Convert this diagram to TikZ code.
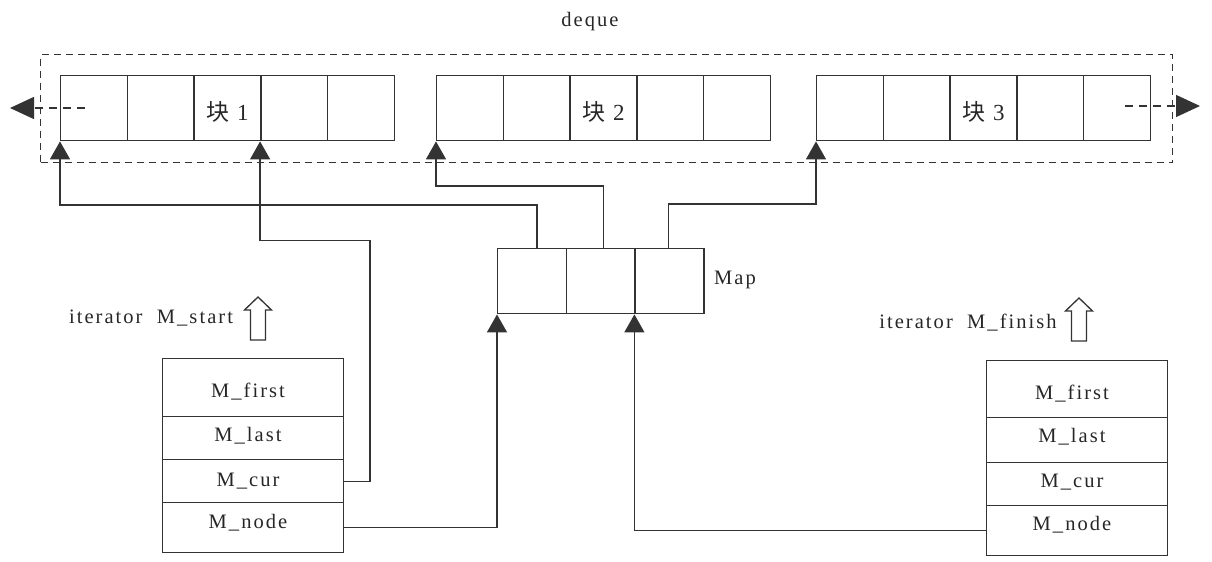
\documentclass[tikz,border=0pt]{standalone}
\usepackage{fontspec}
\setmainfont{Liberation Serif}[LetterSpace=10]
\newfontfamily\cjk{Noto Sans CJK SC}
\usetikzlibrary{arrows.meta}
\definecolor{lc}{gray}{0.2}
\begin{document}
\begin{tikzpicture}[x=1bp,y=-1bp,font=\fontsize{20.5bp}{23bp}\selectfont,text=black!85]
\useasboundingbox (0,0) rectangle (1212,562);
\tikzset{
  cell/.style={draw=lc,line width=1.4bp,minimum width=66.7bp,minimum height=65bp,inner sep=0,anchor=north west},
  mcell/.style={draw=lc,line width=1.4bp,minimum width=68.7bp,minimum height=65bp,inner sep=0,anchor=north west},
  row/.style={draw=lc,line width=1.4bp,inner sep=0,anchor=north west,minimum width=180.5bp},
  frame/.style={draw=lc,line width=1.2bp,dash pattern=on 7bp off 5bp,inner sep=0,anchor=north west},
  conn/.style={draw=lc,line width=1.3bp,-{Triangle[length=18bp,width=20bp]}},
  dline/.style={draw=lc,line width=1.3bp,dash pattern=on 8bp off 6bp,-{Triangle[length=24bp,width=22bp]}},
  hollow/.style={draw=lc,line width=1.3bp,fill=white},
  blbl/.style={font=\fontsize{23bp}{25bp}\selectfont},
}
% dashed deque frame
\node[frame,minimum width=1132bp,minimum height=108bp] (deque) at (40,54) {};
\node (dequelbl) at (590,22) {deque};
% blocks
\foreach \k/\x in {1/60,2/436,3/816}{
  \foreach \j in {1,...,5}{
    \node[cell] (b\k c\j) at ({\x+(\j-1)*66.7},75) {};
  }
  \node[blbl] (t\k) at ([yshift=-4bp]b\k c3.center) {{\cjk 块} \k};
}
% side arrows
\coordinate (la) at (85,108);
\coordinate (lb) at (10,108);
\coordinate (ra) at (1125,106);
\coordinate (rb) at (1200,106);
\draw[dline] (la) -- (lb);
\draw[dline] (ra) -- (rb);
% map
\foreach \j in {1,2,3}{
  \node[mcell] (map\j) at ({497+(\j-1)*68.7},248) {};
}
\node (maplbl) at (735,280) {Map};
% left iterator
\node[row,minimum height=58bp] (lfirst) at (162,358) {};
\node[row,minimum height=43bp] (llast) at (162,416) {};
\node[row,minimum height=43bp] (lcur) at (162,459) {};
\node[row,minimum height=50bp] (lnode) at (162,502) {};
\node (tlf) at (248,392) {M\_first};
\node (tll) at (248,436) {M\_last};
\node (tlc) at (248,481) {M\_cur};
\node (tln) at (248,523) {M\_node};
\node (itl) at (151,318) {iterator\ \ M\_start};
\coordinate (sa) at (258,297);
\draw[hollow] (sa) -- ++(13.5,13) -- ++(-6,0) -- ++(0,30) -- ++(-15,0) -- ++(0,-30) -- ++(-6,0) -- cycle;
% right iterator
\node[row,minimum height=57bp] (rfirst) at (986,360) {};
\node[row,minimum height=45bp] (rlast) at (986,417) {};
\node[row,minimum height=43bp] (rcur) at (986,462) {};
\node[row,minimum height=50bp] (rnode) at (986,505) {};
\node (trf) at (1072,394) {M\_first};
\node (trl) at (1072,437) {M\_last};
\node (trc) at (1072,482) {M\_cur};
\node (trn) at (1072,525) {M\_node};
\node (itr) at (968,323) {iterator\ \ M\_finish};
\coordinate (fa) at (1079,298);
\draw[hollow] (fa) -- ++(13.5,13) -- ++(-6,0) -- ++(0,30) -- ++(-15,0) -- ++(0,-30) -- ++(-6,0) -- cycle;
% connectors
\draw[conn] ([xshift=5bp]map1.north) -- ++(0,-43) -| (b1c1.south west);
\draw[conn] ([xshift=3bp]map2.north) -- ++(0,-62) -| (b2c1.south west);
\draw[conn] ([xshift=-1bp]map3.north) -- ++(0,-44) -| (b3c1.south west);
\draw[conn] (lcur.east) -- ++(26,0) -- ++(0,-240.5) -| (b1c4.south west);
\draw[conn] (lnode.east) -| (map1.south west);
\draw[conn] (rnode.west) -| (map3.south west);
\end{tikzpicture}
\end{document}
